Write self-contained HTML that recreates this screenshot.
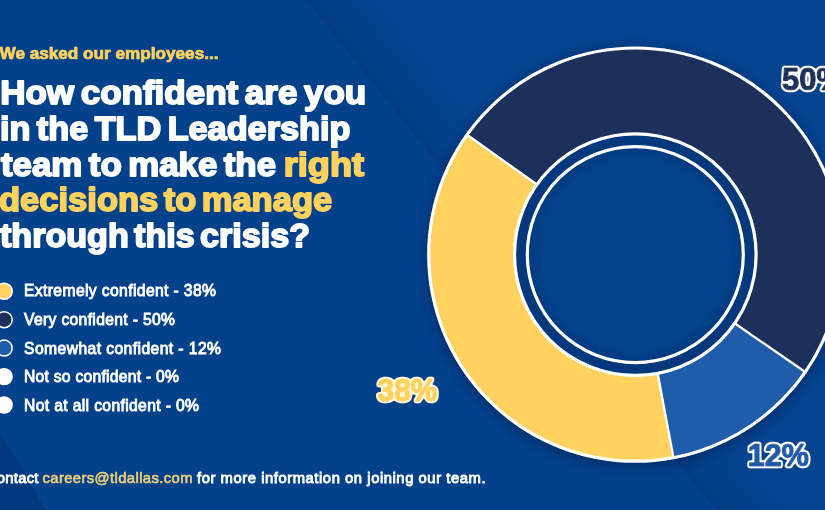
<!DOCTYPE html>
<html lang="en"><head><meta charset="utf-8"><title>TLD Employee Survey</title>
<style>
html,body{margin:0;padding:0;background:#04418b;}
body{width:825px;height:510px;overflow:hidden;position:relative;font-family:"Liberation Sans",sans-serif;}
svg{position:absolute;left:0;top:0;display:block}
text{font-family:"Liberation Sans",sans-serif;}
.h{font-weight:bold;font-size:33px;word-spacing:-3px;fill:#fff;stroke:#fff;stroke-width:1.8px;stroke-linejoin:round}
.h.y,.h .y{stroke:#ffd25f}
.lg{font-weight:normal;font-size:15.7px;fill:#fff;stroke:#fff;stroke-width:0.85px}
.ft{font-size:14.8px}
.y{fill:#ffd25f}
.lg.y{stroke:#ffd25f}
.lg.ft.y{fill:#f0d27a;stroke:#f0d27a;stroke-width:0.6px}
.lg.sub{font-weight:bold;stroke:#ffd25f;stroke-width:0.7px}
.pct{font-weight:bold;font-size:31px;}
</style></head><body>
<svg width="825" height="510" viewBox="0 0 825 510">
<defs>
<filter id="sh" x="-20%" y="-20%" width="140%" height="140%"><feGaussianBlur stdDeviation="6"/></filter>
<filter id="olw" x="-10%" y="-20%" width="120%" height="140%"><feMorphology in="SourceAlpha" operator="dilate" radius="1" result="d"/><feGaussianBlur in="d" stdDeviation="0.8" result="b"/><feComponentTransfer in="b" result="t"><feFuncA type="linear" slope="4" intercept="-0.5"/></feComponentTransfer><feFlood flood-color="#ffffff"/><feComposite operator="in" in2="t" result="o"/><feMerge><feMergeNode in="o"/><feMergeNode in="SourceGraphic"/></feMerge></filter>
<filter id="olc" x="-10%" y="-20%" width="120%" height="140%"><feMorphology in="SourceAlpha" operator="dilate" radius="1" result="d"/><feGaussianBlur in="d" stdDeviation="0.8" result="b"/><feComponentTransfer in="b" result="t"><feFuncA type="linear" slope="4" intercept="-0.5"/></feComponentTransfer><feFlood flood-color="#fff7d8"/><feComposite operator="in" in2="t" result="o"/><feMerge><feMergeNode in="o"/><feMergeNode in="SourceGraphic"/></feMerge></filter>
<linearGradient id="fold" gradientUnits="userSpaceOnUse" x1="306" y1="0" x2="353" y2="-37.6"><stop offset="0" stop-color="#02377c" stop-opacity="0.55"/><stop offset="0.5" stop-color="#043f89" stop-opacity="0.3"/><stop offset="1" stop-color="#0a4b9c" stop-opacity="0.22"/></linearGradient>
<radialGradient id="cg" cx="0.5" cy="0.5" r="0.5"><stop offset="0" stop-color="#04438c"/><stop offset="0.86" stop-color="#04438c"/><stop offset="1" stop-color="#033a7f"/></radialGradient>
</defs>
<rect width="825" height="510" fill="#04418b"/>
<polygon points="306,0 825,0 825,510 716,510" fill="url(#fold)"/>
<polygon points="0,432 46,510 0,510" fill="#03357a" opacity="0.7"/>
<circle cx="635.3" cy="257.6" r="208.6" fill="#021c48" opacity="0.6" filter="url(#sh)"/>
<circle cx="635.3" cy="254.6" r="206.6" fill="#04387d"/>
<path d="M467.00 134.77A206.6 206.6 0 0 1 805.26 372.06L734.67 323.28A120.8 120.8 0 0 0 536.89 184.54Z" fill="#1d305c"/>
<path d="M805.26 372.06A206.6 206.6 0 0 1 673.48 457.64L657.62 373.32A120.8 120.8 0 0 0 734.67 323.28Z" fill="#1f5caa"/>
<path d="M673.48 457.64A206.6 206.6 0 0 1 467.00 134.77L536.89 184.54A120.8 120.8 0 0 0 657.62 373.32Z" fill="#ffd25f"/>
<line x1="467.00" y1="134.77" x2="536.89" y2="184.54" stroke="#fff" stroke-width="2.3"/>
<line x1="805.26" y1="372.06" x2="734.67" y2="323.28" stroke="#fff" stroke-width="2.3"/>
<line x1="673.48" y1="457.64" x2="657.62" y2="373.32" stroke="#fff" stroke-width="2.3"/>
<circle cx="635.3" cy="254.6" r="206.6" fill="none" stroke="#fff" stroke-width="3.2"/>
<circle cx="635.3" cy="254.6" r="120.8" fill="none" stroke="#fff" stroke-width="3.2"/>
<circle cx="635.3" cy="254.6" r="108.0" fill="url(#cg)" stroke="#fff" stroke-width="3.2"/>

<text class="lg y sub" x="-0.5" y="58.5" font-size="16.8" textLength="219" lengthAdjust="spacingAndGlyphs">We asked our employees...</text>
<text class="h" x="0.2" y="104.3" textLength="366" lengthAdjust="spacingAndGlyphs">How confident are you</text>
<text class="h" x="0" y="139.7" textLength="350.4" lengthAdjust="spacingAndGlyphs">in the TLD Leadership</text>
<text class="h" x="1" y="175.5" textLength="275" lengthAdjust="spacingAndGlyphs">team to make the</text><text class="h y" x="283.8" y="175.5" textLength="80.2" lengthAdjust="spacingAndGlyphs">right</text>
<text class="h y" style="word-spacing:-4px" x="-1" y="211.2" textLength="333.2" lengthAdjust="spacingAndGlyphs">decisions to manage</text>
<text class="h" style="word-spacing:-4px" x="0" y="247" textLength="310" lengthAdjust="spacingAndGlyphs">through this crisis?</text>

<circle cx="4.2" cy="291.2" r="8" fill="#ffd25f" stroke="#fff" stroke-width="1.5"/>
<circle cx="4.2" cy="319.7" r="8" fill="#1d305c" stroke="#fff" stroke-width="1.5"/>
<circle cx="4.2" cy="348.1" r="8" fill="#1f5caa" stroke="#fff" stroke-width="1.5"/>
<circle cx="4.2" cy="376.6" r="8.7" fill="#fff"/>
<circle cx="4.2" cy="405" r="8.7" fill="#fff"/>
<text class="lg" x="24" y="296.4" textLength="192" lengthAdjust="spacing">Extremely confident - 38%</text>
<text class="lg" x="24" y="324.9" textLength="151" lengthAdjust="spacing">Very confident - 50%</text>
<text class="lg" x="24" y="353.6" textLength="197" lengthAdjust="spacing">Somewhat confident - 12%</text>
<text class="lg" x="24" y="382.2" textLength="155" lengthAdjust="spacing">Not so confident - 0%</text>
<text class="lg" x="24" y="410.8" textLength="175" lengthAdjust="spacing">Not at all confident - 0%</text>

<text class="lg ft" x="-14.1" y="482.9" textLength="52.5" lengthAdjust="spacing">Contact</text><text class="lg ft y" x="42.5" y="482.9" textLength="150" lengthAdjust="spacing">careers@tldallas.com</text><text class="lg ft" x="197" y="482.9" textLength="288.5" lengthAdjust="spacing">for more information on joining our team.</text>

<g class="pct">
<text x="782" y="89.6" fill="#1d305c" stroke="#1d305c" stroke-width="1.2" stroke-linejoin="round" filter="url(#olw)">50%</text>
<text x="377.6" y="400.9" textLength="59.6" lengthAdjust="spacingAndGlyphs" fill="#ffd25f" stroke="#ffd25f" stroke-width="1.2" stroke-linejoin="round" filter="url(#olc)">38%</text>
<text x="747.7" y="466.2" textLength="61.2" lengthAdjust="spacingAndGlyphs" fill="#1f5caa" stroke="#1f5caa" stroke-width="1.2" stroke-linejoin="round" filter="url(#olw)">12%</text>
</g>
</svg>
</body></html>
